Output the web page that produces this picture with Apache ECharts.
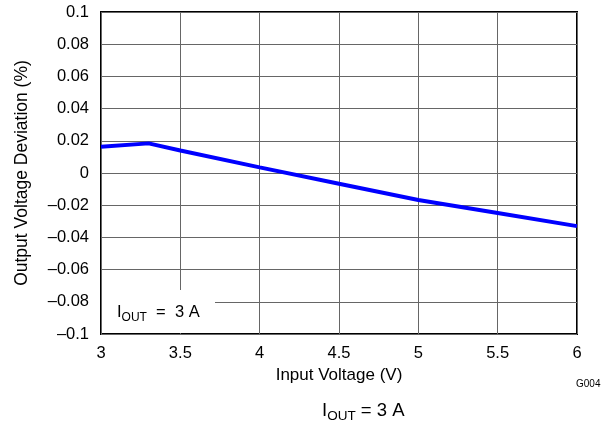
<!DOCTYPE html>
<html>
<head>
<meta charset="utf-8">
<script src="https://cdn.jsdelivr.net/npm/echarts@6/dist/echarts.min.js"></script>
<style>
html, body { margin: 0; padding: 0; background: #fff; }
#main { width: 605px; height: 429px; }
</style>
</head>
<body>
<div id="main"></div>
<script>
// input voltage (V) and output voltage deviation (%)
var vin = [3, 3.3, 3.5, 4, 4.5, 5, 5.5, 6];
var deviation = [0.0163, 0.0184, 0.0140, 0.0035, -0.0067, -0.0168, -0.0248, -0.0330];
var xTicks = [3, 3.5, 4, 4.5, 5, 5.5, 6];
var yTicks = [-0.1, -0.08, -0.06, -0.04, -0.02, 0, 0.02, 0.04, 0.06, 0.08, 0.1];

var myChart = echarts.init(document.getElementById('main'));
var fnt = 'Liberation Sans, Arial, sans-serif';

function fmt(v) {
  var s = String(Math.round(v * 100) / 100);
  return s.replace('-', '\u2013');
}

var option = {
  animation: false,
  grid: { left: 101, top: 12, right: 28, bottom: 95, show: true, borderColor: '#000', borderWidth: 2 },
  xAxis: {
    type: 'value', min: 3, max: 6, interval: 0.5,
    name: 'Input Voltage (V)', nameLocation: 'middle', nameGap: 31,
    nameTextStyle: { fontFamily: fnt, fontSize: 17, color: '#000' },
    axisLine: { show: false }, axisTick: { show: false },
    axisLabel: { fontFamily: fnt, fontSize: 16.5, color: '#000', margin: 11, formatter: fmt },
    splitLine: { lineStyle: { color: '#666', width: 1 } }
  },
  yAxis: {
    type: 'value', min: -0.1, max: 0.1, interval: 0.02,
    name: 'Output Voltage Deviation (%)', nameLocation: 'middle', nameGap: 70,
    nameTextStyle: { fontFamily: fnt, fontSize: 17.5, color: '#000' },
    axisLine: { show: false }, axisTick: { show: false },
    axisLabel: { fontFamily: fnt, fontSize: 16.5, color: '#000', margin: 12, formatter: fmt },
    splitLine: { lineStyle: { color: '#666', width: 1 } }
  },
  series: [{
    type: 'line',
    data: vin.map(function (x, i) { return [x, deviation[i]]; }),
    showSymbol: false,
    lineStyle: { color: '#0000ff', width: 4 },
    z: 5
  }],
  graphic: [
    { type: 'rect', shape: { x: 102, y: 290, width: 113, height: 43 }, style: { fill: '#fff' }, z: 10 },
    {
      type: 'text', left: 117, top: 304, z: 11,
      style: {
        text: '{i|I}{s|OUT}{i|  =  3 A}',
        rich: {
          i: { fontFamily: fnt, fontSize: 16.5, fill: '#000' },
          s: { fontFamily: fnt, fontSize: 12, fill: '#000', padding: [10, 0, 0, 0] }
        }
      }
    },
    {
      type: 'text', left: 576, top: 379,
      style: { text: 'G004', fontFamily: fnt, fontSize: 10, fill: '#000' }
    },
    {
      type: 'text', left: 322, top: 401,
      style: {
        text: '{i|I}{s|OUT}{i| = 3 A}',
        rich: {
          i: { fontFamily: fnt, fontSize: 18.5, fill: '#000' },
          s: { fontFamily: fnt, fontSize: 13.5, fill: '#000', padding: [11, 0, 0, 0] }
        }
      }
    }
  ]
};

myChart.setOption(option);
</script>
</body>
</html>
